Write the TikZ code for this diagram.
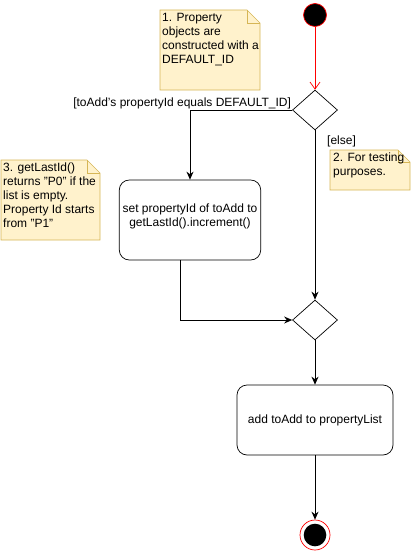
\documentclass[tikz,border=0pt]{standalone}
\usepackage{fontspec}
\setmainfont{Liberation Sans}
\usetikzlibrary{shapes.geometric, arrows.meta, positioning}

\definecolor{notefill}{HTML}{FFF2CC}
\definecolor{noteline}{HTML}{D6B656}

\begin{document}
\begin{tikzpicture}[x=1pt, y=-1pt,
    font=\fontsize{12}{14}\selectfont,
    flow/.style={black, line width=0.9pt, -{Stealth[length=8pt, width=7pt]}},
    redflow/.style={red, line width=0.7pt, -{Straight Barb[length=7pt, width=10pt]}},
    decision/.style={diamond, draw, line width=0.7pt, minimum width=45pt, minimum height=40pt, inner sep=0pt},
    action/.style={rectangle, rounded corners=10pt, draw, line width=0.7pt, align=center},
    notebox/.style={fill=notefill, draw=noteline, line width=0.7pt},
    notetext/.style={anchor=north west, align=left, inner sep=0pt}]
        \useasboundingbox (0,0) rectangle (411,551);
        % start
        \node[circle, draw=red, fill=black, line width=0.7pt, minimum size=23pt, inner sep=0pt] (start) at (315,15) {};
        % decision
        \node[decision] (isdefault) at (315,110) {};
        % set id
        \node[action, minimum width=140pt, minimum height=80pt] (setid) at (190,220) {set propertyId of toAdd to\\getLastId().increment()\\[-4pt]};
        % merge
        \node[decision] (merge) at (315,320) {};
        % add
        \node[action, minimum width=156pt, minimum height=70pt] (addprop) at (315,420) {add toAdd to propertyList};
        % end
        \node[circle, draw=red, fill=white, line width=0.7pt, minimum size=30pt, inner sep=0pt] (final) at (315,535) {};
        \fill[black] (final.center) circle (11.3);

        % notes
        \filldraw[notebox] (160,10) -- (247,10) -- (260,23) -- (260,90) -- (160,90) -- cycle;
        \draw[noteline, line width=0.7pt] (247,10) -- (247,23) -- (260,23);
        \node[notetext] (note1) at (162,13) {1. Property\\objects are\\constructed with a\\DEFAULT\_ID};
        \filldraw[notebox] (330,150) -- (398,150) -- (410,162) -- (410,190) -- (330,190) -- cycle;
        \draw[noteline, line width=0.7pt] (398,150) -- (398,162) -- (410,162);
        \node[notetext] (note2) at (333,153) {2. For testing\\purposes.};
        \filldraw[notebox] (1,160) -- (87,160) -- (100,173) -- (100,240) -- (1,240) -- cycle;
        \draw[noteline, line width=0.7pt] (87,160) -- (87,173) -- (100,173);
        \node[notetext] (note3) at (3,163) {3. getLastId()\\returns "P0" if the\\list is empty.\\Property Id starts\\from "P1"};

        % connectors
        \draw[redflow] (start) -- (isdefault);
        \draw[flow] (isdefault.west) -| (setid.north);
        \draw[flow] (isdefault.south) -- (merge.north);
        \draw[flow] ([xshift=-10pt]setid.south) |- (merge.west);
        \draw[flow] (merge) -- (addprop);
        \draw[flow] (addprop) -- (final);

        % guards
        \node[anchor=south east, inner sep=1pt] (guardyes) at (isdefault.west) {[toAdd's propertyId equals DEFAULT\_ID]};
        \node[anchor=west, inner sep=0pt] (guardelse) at (327,141) {[else]};
    \end{tikzpicture}
\end{document}
